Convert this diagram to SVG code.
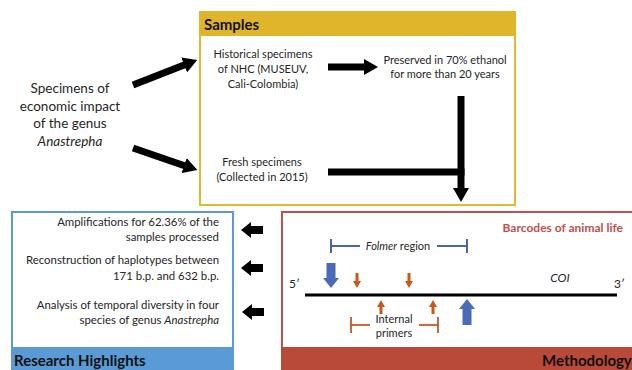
<svg xmlns="http://www.w3.org/2000/svg" width="632" height="370" viewBox="0 0 632 370">
<style>
text{font-family:Lato,"Liberation Sans",sans-serif;fill:#262626}
.t11{font-size:11px}
.t11h{font-size:11.4px}
.c{text-anchor:middle}
.r{text-anchor:end}
.hd{font-size:15px;font-weight:bold;fill:#111}
.thick{stroke:#000;stroke-width:7;fill:none}
.blue{fill:#4A6CB8}
.org{fill:#C65A1E}
</style>
<defs>
<marker id="ah" markerUnits="userSpaceOnUse" markerWidth="14" markerHeight="16" viewBox="0 0 14 16" refX="2" refY="8" orient="auto">
<path d="M0,0 L14,8 L0,16 z" fill="#000"/>
</marker>
</defs>
<rect width="632" height="370" fill="#fff"/>

<g id="samples">
<rect x="200" y="12" width="315" height="193" fill="#fff" stroke="#E6B830" stroke-width="2"/>
<rect x="199" y="11" width="317" height="25" fill="#E0B52A"/>
<text x="204" y="30" class="hd">Samples</text>
</g>

<g id="historical">
<text class="t11 c" x="263" y="58">Historical specimens</text>
<text class="t11 c" x="263" y="73">of NHC (MUSEUV,</text>
<text class="t11 c" x="263" y="88">Cali-Colombia)</text>
</g>

<g id="preserved">
<text class="t11 c" x="445" y="64">Preserved in 70% ethanol</text>
<text class="t11 c" x="445" y="78">for more than 20 years</text>
</g>

<g id="fresh">
<text class="t11 c" x="262" y="166">Fresh specimens</text>
<text class="t11 c" x="262" y="181">(Collected in 2015)</text>
</g>

<g id="specimens">
<text x="70" y="93" class="c" font-size="13.5">Specimens  of</text>
<text x="70" y="111" class="c" font-size="13.5">economic impact</text>
<text x="70" y="128" class="c" font-size="13.5">of the genus</text>
<text x="70" y="146" class="c" font-size="13.5" font-style="italic">Anastrepha</text>
</g>

<g id="highlights">
<rect x="12" y="212" width="221" height="158" fill="#fff" stroke="#5B9BD5" stroke-width="2"/>
<rect x="11" y="347" width="223" height="23" fill="#5B9BD5"/>
<text x="14" y="366" class="hd">Research Highlights</text>
<text class="t11h r" x="219" y="226">Amplifications for 62.36% of the</text>
<text class="t11h r" x="219" y="241">samples processed</text>
<text class="t11h r" x="219" y="264">Reconstruction of haplotypes between</text>
<text class="t11h r" x="219" y="280">171 b.p. and 632 b.p.</text>
<text class="t11h r" x="219" y="309">Analysis of temporal diversity in four</text>
<text class="t11h r" x="219" y="324">species of genus <tspan font-style="italic">Anastrepha</tspan></text>
</g>

<g id="methodology">
<rect x="282" y="212" width="352" height="158" fill="#fff" stroke="#C0504D" stroke-width="2"/>
<rect x="281" y="347" width="353" height="23" fill="#B94A3A"/>
<text x="542" y="366" class="hd">Methodology</text>
<text x="623" y="232" text-anchor="end" font-size="12" font-weight="bold" style="fill:#C0504D">Barcodes of animal life</text>
<g stroke="#3A55A8" stroke-width="1.8">
<line x1="331" y1="246" x2="360" y2="246"/>
<line x1="437" y1="246" x2="467" y2="246"/>
<line x1="331" y1="239" x2="331" y2="253"/>
<line x1="467" y1="239" x2="467" y2="253"/>
</g>
<text x="398" y="250" class="t11 c"><tspan font-style="italic">Folmer</tspan> region</text>
<text x="289" y="288" font-size="12">5′</text>
<text x="614" y="288" font-size="12">3′</text>
<text x="560" y="282" class="c" font-size="12" font-style="italic">COI</text>
<line x1="305" y1="295" x2="617" y2="295" stroke="#000" stroke-width="3"/>
<polygon class="blue" points="326.5,263 335.5,263 335.5,278 339,278 331,288 323,278 326.5,278"/>
<polygon class="blue" points="467,299 475,309 471.5,309 471.5,325 462.5,325 462.5,309 459,309"/>
<polygon class="org" points="355.5,273 358.5,273 358.5,281 361,281 357,288 353,281 355.5,281"/>
<polygon class="org" points="407.5,273 410.5,273 410.5,281 413,281 409,288 405,281 407.5,281"/>
<polygon class="org" points="381,300 385,307 382.5,307 382.5,314 379.5,314 379.5,307 377,307"/>
<polygon class="org" points="433,300 437,307 434.5,307 434.5,314 431.5,314 431.5,307 429,307"/>
<g stroke="#C65A1E" stroke-width="1.8">
<line x1="351" y1="325" x2="370" y2="325"/>
<line x1="419" y1="325" x2="438" y2="325"/>
<line x1="351" y1="317" x2="351" y2="333"/>
<line x1="438" y1="317" x2="438" y2="333"/>
</g>
<text x="394" y="323" class="t11 c">Internal</text>
<text x="394" y="337" class="t11 c">primers</text>
</g>

<g id="connectors">
<line x1="133" y1="85" x2="186" y2="64.3" class="thick" marker-end="url(#ah)"/>
<line x1="133" y1="148" x2="186" y2="166.2" class="thick" marker-end="url(#ah)"/>
<line x1="328" y1="67" x2="366" y2="67" class="thick" marker-end="url(#ah)"/>
<line x1="328" y1="172" x2="464.5" y2="172" class="thick"/>
<line x1="461" y1="96" x2="461" y2="190" class="thick" marker-end="url(#ah)"/>
<polygon points="241,230 251,222 251,226 263,226 263,234 251,234 251,238" fill="#000"/>
<polygon points="241,268 251,260 251,264 263,264 263,272 251,272 251,276" fill="#000"/>
<polygon points="242,312 252,304 252,308 264,308 264,316 252,316 252,320" fill="#000"/>
</g>
</svg>
